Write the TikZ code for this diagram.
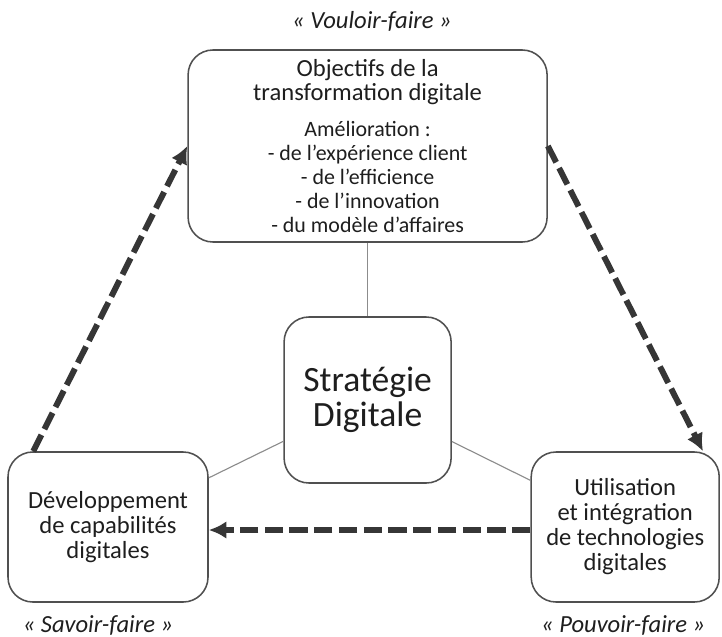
\documentclass[tikz,border=0pt]{standalone}
\usepackage{fontspec}
\setmainfont{Carlito}
\usepackage{tikz}
\usetikzlibrary{shapes.geometric, arrows.meta}

\definecolor{boxGray}{HTML}{505050}
\definecolor{textGray}{HTML}{1E1E1E}
\definecolor{arrowGray}{HTML}{363636}
\definecolor{linkGray}{HTML}{8C8C8C}

\newcommand{\itemFont}{\fontsize{15.6}{16.7}\selectfont}

\tikzstyle{goalBox} = [rectangle, rounded corners=0.62cm, minimum width=8.975cm, minimum height=4.8cm, align=center, draw=boxGray, line width=1.1pt, text=textGray, font=\fontsize{17.5}{17}\selectfont]
\tikzstyle{strategyBox} = [rectangle, rounded corners=0.62cm, minimum width=4.175cm, minimum height=4.15cm, align=center, draw=boxGray, line width=1.1pt, text=textGray, font=\fontsize{25.3}{24.9}\selectfont]
\tikzstyle{capacityBox} = [rectangle, rounded corners=0.62cm, minimum width=5cm, minimum height=3.75cm, align=center, draw=boxGray, line width=1.1pt, text=textGray, font=\fontsize{17.5}{17.8}\selectfont]
\tikzstyle{usageBox} = [rectangle, rounded corners=0.62cm, minimum width=4.7cm, minimum height=3.75cm, align=center, draw=boxGray, line width=1.1pt, text=textGray, font=\fontsize{17.5}{17.8}\selectfont]
\tikzstyle{faireLabel} = [anchor=base, text=textGray, font=\fontsize{17.5}{20}\selectfont\itshape]
\tikzstyle{link} = [draw=linkGray, line width=0.8pt]
\tikzstyle{arrow} = [draw=arrowGray, line width=4.2pt, dash pattern=on 13pt off 4.6pt, -{Latex[length=12.5pt,width=12.5pt]}]

\begin{document}
\begin{tikzpicture}[node distance=6.35cm]
\useasboundingbox (0,0) rectangle (18.05,-15.9);

\node (objectifs) [goalBox] at (9.19,-3.65) {Objectifs de la\\transformation digitale\\[9pt]
  \itemFont Amélioration :\\ \itemFont - de l’expérience client\\ \itemFont - de l’efficience\\
  \itemFont - de l’innovation\\ \itemFont - du modèle d’affaires};
\node (strategie) [strategyBox, below of=objectifs] {Stratégie\\Digitale};
\node (savoir) [capacityBox, below of=strategie, node distance=3.175cm, xshift=-6.49cm] {Développement\\de capabilités\\digitales};
\node (pouvoir) [usageBox, below of=strategie, node distance=3.175cm, xshift=6.44cm] {Utilisation\\et intégration\\de technologies\\digitales};

\node (vouloirLabel) [faireLabel] at (9.3,-0.72) {« Vouloir-faire »};
\node (savoirLabel) [faireLabel] at (2.45,-15.8) {« Savoir-faire »};
\node (pouvoirLabel) [faireLabel] at (15.58,-15.8) {« Pouvoir-faire »};

\draw [link] (strategie) -- (objectifs);
\draw [link] (strategie) -- (savoir);
\draw [link] (strategie) -- (pouvoir);

\draw [arrow] ([xshift=0.65cm]savoir.north west) -- (objectifs.west);
\draw [arrow] (objectifs.east) -- ([xshift=-0.425cm]pouvoir.north east);
\draw [arrow] ([yshift=-0.075cm]pouvoir.west) -- ([yshift=-0.075cm]savoir.east);
\end{tikzpicture}
\end{document}
